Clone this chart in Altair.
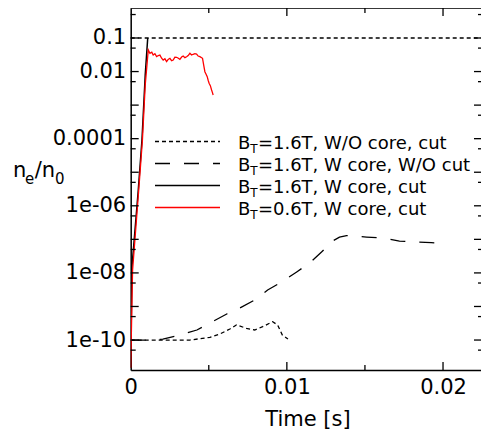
import math
import altair as alt
import pandas as pd

# ---------------- data ----------------
# B_T=1.6T, W/O core, cut  (dotted)
dot_t = [0, 0.00379, 0.00507, 0.00571, 0.00635, 0.00677, 0.00741, 0.00794, 0.00845, 0.00909, 0.00941, 0.00971, 0.01007]
dot_v = [1e-10, 1e-10, 1.2e-10, 1.51e-10, 2.13e-10, 2.81e-10, 2.24e-10, 1.99e-10, 2.5e-10, 3.52e-10, 2.81e-10, 1.41e-10, 1.07e-10]

# B_T=1.6T, W core, W/O cut  (long dashes)
dash_t = [0, 0.00123, 0.00206, 0.00315, 0.00424, 0.0052, 0.00615, 0.00698, 0.00794, 0.00877, 0.00967, 0.01063,
          0.01146, 0.01222, 0.01293, 0.01337, 0.01382, 0.0151, 0.01612, 0.01721, 0.01829, 0.01925, 0.02027]
dash_v = [1e-10, 1e-10, 1.07e-10, 1.41e-10, 1.99e-10, 3.45e-10, 5.98e-10, 9.0e-10, 1.56e-9, 3.1e-9, 5.37e-9, 1.07e-8,
          1.98e-8, 4.2e-8, 8.9e-8, 1.17e-7, 1.3e-7, 1.17e-7, 1.1e-7, 8.9e-8, 8.3e-8, 8.0e-8, 7.3e-8]

# B_T=1.6T, W core, cut  (solid black)
solid_t = [0, 0.00008, 0.00047, 0.00072, 0.00091, 0.00093, 0.00109]
solid_v = [1.5e-11, 1.5e-8, 2.4e-6, 9e-5, 5e-3, 8e-3, 0.1]

# B_T=0.6T, W core, cut  (red)
red_t = [0, 0.00012, 0.0005, 0.00075, 0.00093, 0.00102, 0.001125, 0.00123, 0.00135, 0.00144, 0.00155, 0.00166,
         0.00177, 0.00187, 0.00198, 0.00208, 0.00219, 0.0023, 0.0024, 0.00251, 0.00262, 0.00272, 0.00283, 0.00294,
         0.00305, 0.00315, 0.00326, 0.00336, 0.00347, 0.00358, 0.00368, 0.00379, 0.0039, 0.004, 0.00411, 0.00422,
         0.00432, 0.00443, 0.0046, 0.00468, 0.00475, 0.00482, 0.0049, 0.00496, 0.00502, 0.0051, 0.00518, 0.00523, 0.00528]
red_v = [1.5e-11, 1.2e-8, 2.4e-6, 9e-5, 4e-3, 1.2e-2, 0.044, 0.035, 0.038, 0.031, 0.034, 0.028,
         0.03, 0.031, 0.025, 0.022, 0.024, 0.0197, 0.023, 0.0248, 0.021, 0.022, 0.027, 0.0266,
         0.025, 0.0232, 0.027, 0.029, 0.026, 0.0277, 0.03, 0.035, 0.031, 0.0327, 0.034, 0.0333,
         0.029, 0.0277, 0.0248, 0.015, 0.0099, 0.0085, 0.00703, 0.0055, 0.00447, 0.0038, 0.00282, 0.0024, 0.002]

ref_level = [0.1]

x_label_vals = [0, 0.01, 0.02]
x_minor = [0.005, 0.015]
y_label_vals = [0.1, 0.01, 1e-4, 1e-6, 1e-8, 1e-10]
y_label_txt = ["0.1", "0.01", "0.0001", "1e-06", "1e-08", "1e-10"]
y_major = [1e-10, 1e-9, 1e-8, 1e-7, 1e-6, 1e-5, 1e-4, 1e-3, 1e-2, 1e-1]
y_minor = [5e-11, 5e-10, 5e-9, 5e-8, 5e-7, 5e-6, 5e-5, 5e-4, 5e-3, 5e-2, 0.5]

legend_rest = ["=1.6T, W/O core, cut", "=1.6T, W core, W/O cut", "=1.6T, W core, cut", "=0.6T, W core, cut"]
x_title = "Time [s]"

# ---------------- layout ----------------
W = 350.3
H = 362
FONT = "DejaVu Sans"
x_dom = [0, 0.022432]
y_dom = [1.28e-11, 0.783]

xscale = alt.Scale(domain=x_dom, nice=False, zero=False)
yscale = alt.Scale(type="log", domain=y_dom, nice=False)

expr_parts = []
for v, s in zip(y_label_vals, y_label_txt):
    expr_parts.append(f"abs(log(datum.value)/log(10) - ({math.log10(v):.4f})) < 0.01 ? '{s}'")
y_expr = " : ".join(expr_parts) + " : ''"

xaxis = alt.Axis(values=x_label_vals, labelExpr="datum.value == 0 ? '0' : format(datum.value, '.2f')",
                 ticks=False, grid=False, domainColor="black", domainWidth=1.5,
                 labelFont=FONT, labelFontSize=21, labelColor="black", labelPadding=6,
                 title=None, labelFlush=False)
yaxis = alt.Axis(values=y_label_vals, labelExpr=y_expr, ticks=False, grid=False,
                 domainColor="black", domainWidth=1.5, labelFont=FONT, labelFontSize=21,
                 labelColor="black", labelPadding=5, title=None, labelFlush=False)

X = alt.X("t:Q", scale=xscale, axis=xaxis)
Y = alt.Y("v:Q", scale=yscale, axis=yaxis)


def curve(ts, vs, color, dash=None, width=1.5):
    df = pd.DataFrame({"t": ts, "v": vs})
    kw = dict(color=color, strokeWidth=width, clip=True)
    if dash:
        kw["strokeDash"] = dash
    return alt.Chart(df).mark_line(**kw).encode(x=X, y=Y)


def label(s, fs, xx, yy, align="left"):
    return alt.Chart(pd.DataFrame({"s": [s]})).mark_text(
        font=FONT, fontSize=fs, align=align, baseline="alphabetic", color="black").encode(
        text="s:N", x=alt.value(xx), y=alt.value(yy))


layers = []
layers.append(curve(dot_t, dot_v, "black", [4, 3], 1.3))
layers.append(curve(dash_t, dash_v, "black", [15, 14], 1.3))
layers.append(curve(solid_t, solid_v, "black", None, 1.5))
layers.append(curve(red_t, red_v, "#ff0000", None, 1.3))

# horizontal dotted level
layers.append(alt.Chart(pd.DataFrame({"v": ref_level})).mark_rule(color="black", strokeWidth=1.3, strokeDash=[4, 3])
              .encode(y=Y, x=alt.value(0), x2=alt.value(W)))

# top border
layers.append(alt.Chart(pd.DataFrame({"a": [0]})).mark_rule(color="black", strokeWidth=1.5)
              .encode(x=alt.value(0), x2=alt.value(W), y=alt.value(0)))

# y ticks (left and right, inward)
ymaj = pd.DataFrame({"v": y_major})
ymin = pd.DataFrame({"v": y_minor})
RF = W
layers.append(alt.Chart(ymaj).mark_rule(color="black", strokeWidth=1.3).encode(y=Y, x=alt.value(0), x2=alt.value(8)))
layers.append(alt.Chart(ymin).mark_rule(color="black", strokeWidth=1.3).encode(y=Y, x=alt.value(0), x2=alt.value(5)))
layers.append(alt.Chart(ymaj).mark_rule(color="black", strokeWidth=1.3).encode(y=Y, x=alt.value(RF - 7), x2=alt.value(RF)))
layers.append(alt.Chart(ymin).mark_rule(color="black", strokeWidth=1.3).encode(y=Y, x=alt.value(RF - 3), x2=alt.value(RF)))

# x ticks (bottom and top, inward)
xmaj = pd.DataFrame({"t": x_label_vals[1:]})
xmin = pd.DataFrame({"t": x_minor})
layers.append(alt.Chart(xmaj).mark_rule(color="black", strokeWidth=1.3).encode(x=X, y=alt.value(H), y2=alt.value(H - 8)))
layers.append(alt.Chart(xmin).mark_rule(color="black", strokeWidth=1.3).encode(x=X, y=alt.value(H), y2=alt.value(H - 5)))
layers.append(alt.Chart(xmaj).mark_rule(color="black", strokeWidth=1.3).encode(x=X, y=alt.value(0), y2=alt.value(8)))
layers.append(alt.Chart(xmin).mark_rule(color="black", strokeWidth=1.3).encode(x=X, y=alt.value(0), y2=alt.value(5)))

# legend
row_y = [133.5, 155.5, 177.5, 199.5]
styles = [("black", [4, 3]), ("black", [15, 14]), ("black", None), ("#ff0000", None)]
one = pd.DataFrame({"a": [0]})
for i, (col, dash) in enumerate(styles):
    kw = dict(color=col, strokeWidth=1.5)
    if dash:
        kw["strokeDash"] = dash
    layers.append(alt.Chart(one).mark_rule(**kw).encode(
        x=alt.value(24.3), x2=alt.value(89.3), y=alt.value(row_y[i])))
    ty = row_y[i] + 7
    layers.append(label("B", 18, 107.3, ty))
    layers.append(label("T", 12, 119.6, ty + 4))
    layers.append(label(legend_rest[i], 18, 127.2, ty))

# y-axis title n_e/n_0
for s, fs, xx, yy in [("n", 21, -117.7, 168.7), ("e", 15, -105.7, 176.0),
                      ("/n", 21, -96.0, 168.7), ("0", 15, -75.6, 176.0)]:
    layers.append(label(s, fs, xx, yy))

# x-axis title
layers.append(label(x_title, 21, 177.3, 417.5, align="center"))

chart = alt.layer(*layers).properties(
    width=W, height=H,
    autosize=alt.AutoSizeParams(type="none"),
    padding={"left": 122.7, "top": 0, "right": 0, "bottom": 60},
).configure_view(strokeWidth=0).configure(background="white")

chart.save("out.html", embed_options={"renderer": "svg", "actions": False})
